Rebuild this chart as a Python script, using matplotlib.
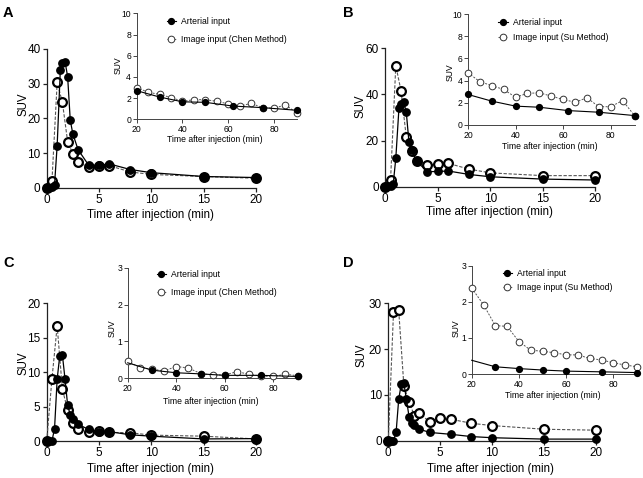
import matplotlib
matplotlib.use('Agg')
import matplotlib.pyplot as plt

plt.rcParams['font.family'] = ['Liberation Sans', 'DejaVu Sans']

# ===== DATA =====
# Panel A
a_art_t = [0, 0.25, 0.5, 0.75, 1, 1.3, 1.5, 1.75, 2, 2.25, 2.5, 3, 4, 5, 6, 8, 10, 15, 20]
a_art_v = [0, 0.1, 0.3, 1.0, 12.2, 33.8, 35.8, 36.3, 32.0, 19.5, 15.5, 11.0, 6.6, 6.5, 6.9, 5.3, 4.4, 3.3, 3.0]
a_img_t = [0, 0.5, 1, 1.5, 2, 2.5, 3, 4, 5, 6, 8, 10, 15, 20]
a_img_v = [0, 1.9, 30.3, 24.6, 13.3, 9.8, 7.4, 6.0, 6.3, 6.4, 4.6, 3.9, 3.3, 2.8]
a_ins_art_t = [20, 30, 40, 50, 62, 75, 90]
a_ins_art_v = [2.7, 2.1, 1.65, 1.6, 1.25, 1.1, 0.85]
a_ins_img_t = [20, 25, 30, 35, 40, 45, 50, 55, 60, 65, 70, 75, 80, 85, 90]
a_ins_img_v = [3.0, 2.55, 2.35, 2.05, 1.7, 1.85, 1.85, 1.7, 1.45, 1.25, 1.5, 1.1, 1.05, 1.35, 0.6]

# Panel B
b_art_t = [0, 0.25, 0.5, 0.75, 1, 1.3, 1.5, 1.75, 2, 2.25, 2.5, 3, 4, 5, 6, 8, 10, 15, 20]
b_art_v = [0, 0.1, 0.4, 1.0, 12.3, 34.0, 36.0, 36.8, 32.2, 19.5, 15.8, 11.0, 6.5, 6.6, 6.8, 5.3, 4.3, 3.3, 2.9]
b_img_t = [0, 0.5, 1, 1.5, 2, 2.5, 3, 4, 5, 6, 8, 10, 15, 20]
b_img_v = [0, 2.9, 52.5, 41.5, 21.4, 15.6, 11.3, 9.4, 9.8, 10.1, 7.6, 6.0, 4.8, 4.8]
b_ins_art_t = [20, 30, 40, 50, 62, 75, 90]
b_ins_art_v = [2.75, 2.15, 1.7, 1.6, 1.3, 1.15, 0.85]
b_ins_img_t = [20, 25, 30, 35, 40, 45, 50, 55, 60, 65, 70, 75, 80, 85, 90]
b_ins_img_v = [4.7, 3.9, 3.55, 3.2, 2.5, 2.85, 2.9, 2.6, 2.3, 2.05, 2.45, 1.65, 1.65, 2.2, 0.85]

# Panel C
c_art_t = [0, 0.25, 0.5, 0.75, 1, 1.25, 1.5, 1.75, 2, 2.25, 2.5, 3, 4, 5, 6, 8, 10, 15, 20]
c_art_v = [0, 0, 0, 1.8, 9.0, 12.4, 12.5, 9.0, 5.2, 3.8, 3.2, 2.4, 1.7, 1.35, 1.35, 0.9, 0.7, 0.3, 0.35]
c_img_t = [0, 0.5, 1, 1.5, 2, 2.5, 3, 4, 5, 6, 8, 10, 15, 20]
c_img_v = [0, 9.0, 16.7, 7.5, 4.5, 2.6, 1.7, 1.35, 1.45, 1.25, 1.2, 0.85, 0.7, 0.3]
c_ins_art_t = [20, 30, 40, 50, 60, 75, 90]
c_ins_art_v = [0.42, 0.22, 0.15, 0.12, 0.08, 0.08, 0.05]
c_ins_img_t = [20, 25, 30, 35, 40, 45, 50, 55, 60, 65, 70, 75, 80, 85, 90]
c_ins_img_v = [0.47, 0.29, 0.25, 0.2, 0.32, 0.28, 0.13, 0.09, 0.09, 0.18, 0.11, 0.06, 0.05, 0.11, 0.07]

# Panel D
d_art_t = [0, 0.25, 0.5, 0.75, 1, 1.25, 1.5, 1.75, 2, 2.25, 2.5, 3, 4, 6, 8, 10, 15, 20]
d_art_v = [0, 0, 0, 1.8, 9.0, 12.4, 12.5, 9.0, 5.2, 3.8, 3.4, 2.5, 1.8, 1.4, 0.9, 0.65, 0.35, 0.35]
d_img_t = [0, 0.5, 1, 1.5, 2, 2.5, 3, 4, 5, 6, 8, 10, 15, 20]
d_img_v = [0, 28.0, 28.5, 12.0, 8.5, 5.5, 6.1, 4.0, 4.9, 4.7, 3.8, 3.3, 2.5, 2.3]
d_ins_art_t = [20, 30, 40, 50, 60, 75, 90]
d_ins_art_v = [0.38, 0.2, 0.15, 0.11, 0.08, 0.06, 0.04]
d_ins_img_t = [20, 25, 30, 35, 40, 45, 50, 55, 60, 65, 70, 75, 80, 85, 90]
d_ins_img_v = [2.38, 1.92, 1.34, 1.32, 0.9, 0.66, 0.63, 0.59, 0.53, 0.53, 0.43, 0.39, 0.31, 0.25, 0.2]

panels = [
    dict(letter='A', method='Chen', ymax=40, ystep=10, iymax=10, iystep=2,
         art=(a_art_t, a_art_v), img=(a_img_t, a_img_v),
         iart=(a_ins_art_t, a_ins_art_v), iimg=(a_ins_img_t, a_ins_img_v),
         main=(46.7, 256, 188, 48.7), ins=(136.7, 296.9, 119.3, 13.3),
         letter_xy=(3, 17), ylab=(-0.113, 0.60), xlab=(0.494, -0.194),
         iylab=(-0.117, 0.51), ixlab=(0.49, -0.195), leg=(0.187, 0.965), lsp=1.05,
         first_marker=True),
    dict(letter='B', method='Su', ymax=60, ystep=20, iymax=10, iystep=2,
         art=(b_art_t, b_art_v), img=(b_img_t, b_img_v),
         iart=(b_ins_art_t, b_ins_art_v), iimg=(b_ins_img_t, b_ins_img_v),
         main=(385.3, 595.3, 186.7, 48.3), ins=(468, 634.5, 125, 14),
         letter_xy=(343, 17), ylab=(-0.12, 0.58), xlab=(0.494, -0.185),
         iylab=(-0.108, 0.48), ixlab=(0.49, -0.195), leg=(0.182, 0.964), lsp=0.65,
         first_marker=True),
    dict(letter='C', method='Chen', ymax=20, ystep=5, iymax=3, iystep=1,
         art=(c_art_t, c_art_v), img=(c_img_t, c_img_v),
         iart=(c_ins_art_t, c_ins_art_v), iimg=(c_ins_img_t, c_ins_img_v),
         main=(46.7, 256, 441, 303.3), ins=(127.7, 297.6, 378.3, 267.7),
         letter_xy=(3, 267), ylab=(-0.113, 0.566), xlab=(0.494, -0.206),
         iylab=(-0.094, 0.455), ixlab=(0.49, -0.21), leg=(0.171, 0.979), lsp=1.1,
         first_marker=False),
    dict(letter='D', method='Su', ymax=30, ystep=10, iymax=3, iystep=1,
         art=(d_art_t, d_art_v), img=(d_img_t, d_img_v),
         iart=(d_ins_art_t, d_ins_art_v), iimg=(d_ins_img_t, d_ins_img_v),
         main=(388.3, 596, 440.7, 303.3), ins=(471.7, 636.9, 374, 265.7),
         letter_xy=(343, 267), ylab=(-0.127, 0.62), xlab=(0.494, -0.208),
         iylab=(-0.092, 0.42), ixlab=(0.49, -0.194), leg=(0.188, 0.974), lsp=0.65,
         first_marker=False),
]

W, H = 643, 478
fig = plt.figure(figsize=(W / 100, H / 100), dpi=100)


def rect(x0, x1, y0, y1):
    return [x0 / W, 1 - y0 / H, (x1 - x0) / W, (y0 - y1) / H]


def style_axes(ax, fs, lw=0.9, col='#222222', pad=1.5):
    for s in ['top', 'right']:
        ax.spines[s].set_visible(False)
    for s in ['left', 'bottom']:
        ax.spines[s].set_linewidth(lw)
        ax.spines[s].set_color(col)
    ax.tick_params(direction='out', length=3, width=lw, color=col,
                   labelsize=fs, pad=pad)
    ax.patch.set_alpha(0)


def place_labels(ax, xl, yl, fs, xy_x, xy_y):
    ax.set_xlabel(xl, fontsize=fs, va='center')
    ax.set_ylabel(yl, fontsize=fs, va='center')
    ax.xaxis.set_label_coords(*xy_x)
    ax.yaxis.set_label_coords(*xy_y)


for p in panels:
    # ===== MAIN PLOT =====
    ax = fig.add_axes(rect(*p['main']))
    ax.plot(*p['img'], linestyle=(0, (3, 1.5)), color='#555555', lw=0.8,
            marker='o', ms=6.3, mfc='white', mec='black', mew=1.6, clip_on=False, zorder=3)
    ax.plot(*p['art'], '-', color='black', lw=0.9,
            marker='o', ms=5.3, mfc='black', mec='black', clip_on=False, zorder=4)
    ax.set_xlim(0, 20)
    ax.set_ylim(0, p['ymax'])
    ax.set_xticks([0, 5, 10, 15, 20])
    ax.set_yticks(range(0, p['ymax'] + 1, p['ystep']))
    style_axes(ax, 8.5)
    place_labels(ax, 'Time after injection (min)', 'SUV', 8.3, p['xlab'], p['ylab'])

    fig.text(p['letter_xy'][0] / W, 1 - p['letter_xy'][1] / H, p['letter'],
             fontsize=10.5, fontweight='bold', va='baseline', ha='left')

    # ===== INSET =====
    ia = fig.add_axes(rect(*p['ins']))
    ia.plot(*p['iart'], '-', color='black', lw=0.8, marker='o', ms=4.2,
            mfc='black', mec='black', clip_on=False, zorder=4,
            markevery=slice(0 if p['first_marker'] else 1, None),
            label='Arterial input')
    ia.plot(*p['iimg'], linestyle=(0, (2, 1.5)), color='#555555', lw=0.7,
            marker='o', ms=4.8, mfc='white', mec='#333333', mew=0.7,
            clip_on=False, zorder=3,
            label='Image input (%s Method)' % p['method'])
    ia.set_xlim(20, 90)
    ia.set_ylim(0, p['iymax'])
    ia.set_xticks([20, 40, 60, 80])
    ia.set_yticks(range(0, p['iymax'] + 1, p['iystep']))
    style_axes(ia, 6.2, lw=0.7, col='#444444', pad=1.0)
    place_labels(ia, 'Time after injection (min)', 'SUV', 6.2, p['ixlab'], p['iylab'])
    ia.legend(loc='upper left', bbox_to_anchor=p['leg'], frameon=False,
              fontsize=6.2, borderpad=0, borderaxespad=0, handlelength=1.1,
              handletextpad=0.6, labelspacing=p['lsp'])

fig.savefig('out.png', dpi=100)
